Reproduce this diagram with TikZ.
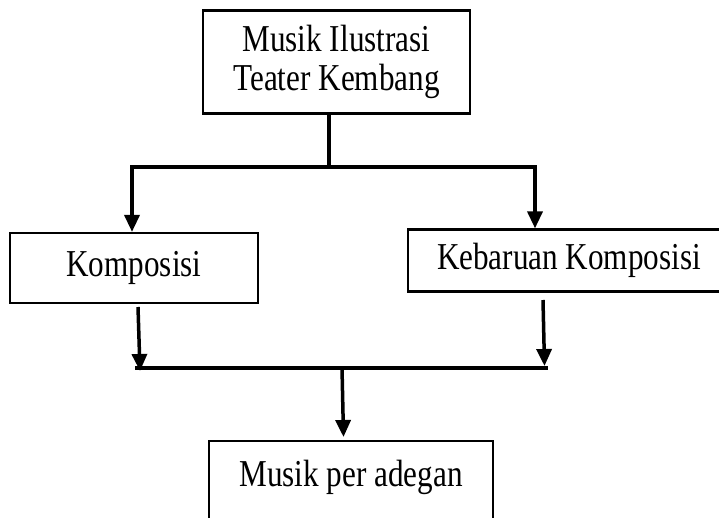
\documentclass[tikz,border=0pt]{standalone}
\usepackage{fontspec}
\setmainfont{Liberation Serif}
\newfontfamily\narrowserif[FakeStretch=0.82]{Liberation Serif}
\usetikzlibrary{arrows.meta}
\begin{document}
\begin{tikzpicture}[x=1pt,y=-1pt,
  box/.style={draw, line width=2.2pt, inner sep=0pt, font=\narrowserif\fontsize{38}{39}\selectfont, align=center},
  conn/.style={line width=3.5pt},
  arr/.style={conn, -{Triangle[length=17pt,width=15pt]}}]
\useasboundingbox (0,0) rectangle (719,518);
\clip (0,0) rectangle (719,518);
\node[box, minimum width=267pt, minimum height=103pt] (top) at (336.5,62) {Musik Ilustrasi\\Teater Kembang};
\node[box, minimum width=248pt, minimum height=70pt] (komp) at (134,268) {Komposisi};
\node[box, minimum width=322pt, minimum height=62pt] (keb) at (569,260.5) {Kebaruan Komposisi};
\node[box, minimum width=284pt, minimum height=104pt] (bot) at (351,493) {Musik per adegan\\~};
\coordinate (j1) at (329,167);
\coordinate (hl) at (132,167);
\coordinate (hr) at (535,167);
\coordinate (la) at (138,307);
\coordinate (lb) at (140,371);
\coordinate (ra) at (543,300);
\coordinate (rb) at (544.5,366);
\coordinate (bl) at (135,368);
\coordinate (br) at (548,368);
\coordinate (ma) at (342,368);
\coordinate (mb) at (343.5,437);
\draw[conn] (top.south -| j1) -- (j1);
\draw[conn] (hl) -- (hr);
\draw[arr] ([yshift=1.75pt]hl) -- (hl |- komp.north);
\draw[arr] ([yshift=1.75pt]hr) -- (hr |- keb.north);
\draw[arr] (la) -- (lb);
\draw[arr] (ra) -- (rb);
\draw[conn] (bl) -- (br);
\draw[arr] (ma) -- (mb);
\end{tikzpicture}
\end{document}
